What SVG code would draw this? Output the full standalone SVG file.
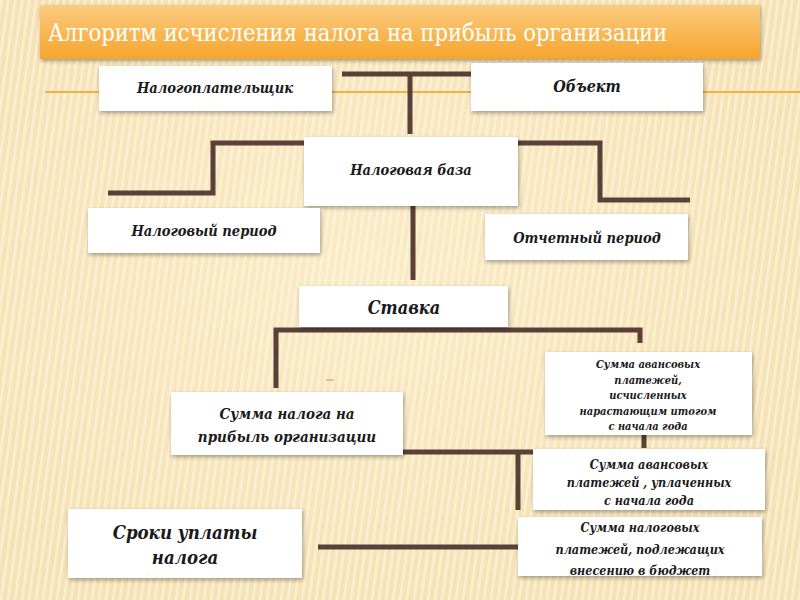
<svg xmlns="http://www.w3.org/2000/svg" width="800" height="600" viewBox="0 0 800 600">
<defs>
<pattern id="stripes" width="7" height="600" patternUnits="userSpaceOnUse" patternTransform="skewX(-8)">
<rect width="7" height="600" fill="#f5e1b4"/>
<rect x="0" width="2.5" height="600" fill="#fbefd2"/>
</pattern>
<radialGradient id="glow" cx="0.45" cy="0.45" r="0.6">
<stop offset="0" stop-color="#fff6dc" stop-opacity="0.5"/>
<stop offset="1" stop-color="#fff6dc" stop-opacity="0"/>
</radialGradient>
<linearGradient id="title" x1="0" y1="0" x2="0" y2="1">
<stop offset="0" stop-color="#fbcb80"/>
<stop offset="1" stop-color="#f6a52c"/>
</linearGradient>
<filter id="sh" x="-10%" y="-10%" width="125%" height="130%">
<feGaussianBlur in="SourceAlpha" stdDeviation="2"/>
<feOffset dx="1" dy="2"/>
<feComponentTransfer><feFuncA type="linear" slope="0.35"/></feComponentTransfer>
<feMerge><feMergeNode/><feMergeNode in="SourceGraphic"/></feMerge>
</filter>
</defs>
<style>
.box{fill:#ffffff;filter:url(#sh)}
.t{font-family:"DejaVu Serif Condensed","DejaVu Serif",serif;font-stretch:condensed;font-style:italic;font-weight:bold;fill:#1a1a1a;text-anchor:middle}
.c{fill:none;stroke:#5b4039;stroke-width:5;stroke-linejoin:miter}
.tt{font-family:"DejaVu Serif Condensed","DejaVu Serif",serif;font-stretch:condensed;fill:#ffffff}
</style>
<rect width="800" height="600" fill="url(#stripes)"/>
<rect width="800" height="600" fill="url(#glow)"/>
<line x1="45" y1="92" x2="800" y2="92" stroke="#f0b04a" stroke-width="2"/>
<g id="title-bar">
<rect x="40" y="5" width="720" height="54" fill="url(#title)" filter="url(#sh)"/>
<text class="tt" x="48" y="41" font-size="23.5">Алгоритм исчисления налога на прибыль организации</text>
</g>
<g id="connectors">
<path class="c" d="M342 74 H471 M410 74 V134"/>
<path class="c" d="M108 193 H213 V143 H304"/>
<path class="c" d="M518 143 H600 V200 H690"/>
<path class="c" d="M413 206 V280"/>
<path class="c" d="M276 388 V330 H640 V343"/>
<path class="c" d="M644 435 V448"/>
<path class="c" d="M403 452 H535 M518 452 V510"/>
<path class="c" d="M318 547 H520"/>
<line x1="326" y1="380" x2="334" y2="380" stroke="#e89a4a" stroke-width="1.2"/>
</g>
<g id="nalogoplatelshchik">
<rect class="box" x="99" y="66" width="233" height="45"/>
<text class="t" x="215" y="93" font-size="14.5">Налогоплательщик</text>
</g>
<g id="obekt">
<rect class="box" x="471" y="63" width="232" height="48"/>
<text class="t" x="587" y="92" font-size="16">Объект</text>
</g>
<g id="nalogovaya-baza">
<rect class="box" x="304" y="137" width="214" height="69"/>
<text class="t" x="411" y="175" font-size="14.5">Налоговая база</text>
</g>
<g id="nalogovyi-period">
<rect class="box" x="88" y="208" width="232" height="45"/>
<text class="t" x="204" y="236" font-size="14.5">Налоговый период</text>
</g>
<g id="otchetnyi-period">
<rect class="box" x="485" y="214" width="203" height="46"/>
<text class="t" x="587" y="243" font-size="14.5">Отчетный период</text>
</g>
<g id="stavka">
<rect class="box" x="299" y="286" width="209" height="41"/>
<text class="t" x="404" y="314" font-size="18">Ставка</text>
</g>
<g id="avans-ischislennye">
<rect class="box" x="545" y="352" width="207" height="83"/>
<text class="t" font-size="11"><tspan x="648" y="368">Сумма авансовых</tspan><tspan x="648" y="383.5">платежей,</tspan><tspan x="648" y="399">исчисленных</tspan><tspan x="648" y="414.5">нарастающим итогом</tspan><tspan x="648" y="430">с начала года</tspan></text>
</g>
<g id="summa-naloga">
<rect class="box" x="171" y="392" width="232" height="63"/>
<text class="t" font-size="15"><tspan x="287" y="419">Сумма налога на</tspan><tspan x="287" y="442">прибыль организации</tspan></text>
</g>
<g id="avans-uplachennye">
<rect class="box" x="533" y="449" width="232" height="61"/>
<text class="t" font-size="12.5"><tspan x="649" y="469">Сумма авансовых</tspan><tspan x="649" y="487">платежей , уплаченных</tspan><tspan x="649" y="505">с начала года</tspan></text>
</g>
<g id="sroki">
<rect class="box" x="68" y="509" width="234" height="69"/>
<text class="t" font-size="18.5"><tspan x="185" y="539">Сроки уплаты</tspan><tspan x="185" y="564">налога</tspan></text>
</g>
<g id="summa-platezhei">
<rect class="box" x="518" y="517" width="244" height="59"/>
<text class="t" font-size="12.5"><tspan x="640" y="532">Сумма налоговых</tspan><tspan x="640" y="554">платежей, подлежащих</tspan><tspan x="640" y="575">внесению в бюджет</tspan></text>
</g>
</svg>
